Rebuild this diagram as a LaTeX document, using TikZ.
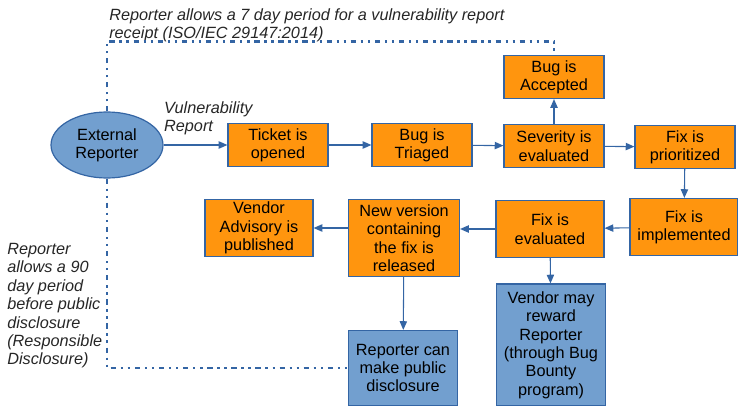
\documentclass[tikz,border=0pt]{standalone}
\usepackage{fontspec}
\setmainfont{Liberation Sans}
\usetikzlibrary{arrows.meta, shapes.geometric}
\definecolor{stageorange}{HTML}{FF950E}
\definecolor{partyblue}{HTML}{729FCF}
\definecolor{edgeblue}{HTML}{3465A4}

\begin{document}
\begin{tikzpicture}[x=0.75pt, y=-0.75pt, auto,
    font=\fontsize{12.2}{13.8}\selectfont,
    flow/.style={-{Triangle[length=6.5pt,width=5.5pt]}, draw=edgeblue, line width=0.8pt},
    window/.style={draw=edgeblue, line width=1.8pt,
      dash pattern=on 4pt off 3.5pt on 1.8pt off 3.5pt on 1.8pt off 3.5pt},
    stage/.style={draw=edgeblue, line width=0.9pt, fill=stageorange, align=center, inner sep=0pt,
      minimum width=75pt, minimum height=32.25pt},
    bigstage/.style={stage, minimum width=81pt, minimum height=42.75pt},
    outcome/.style={draw=edgeblue, line width=0.9pt, fill=partyblue, align=center, inner sep=0pt,
      minimum width=81.75pt},
    party/.style={ellipse, draw=edgeblue, line width=0.9pt, fill=partyblue, align=center, inner sep=0pt,
      minimum width=84pt, minimum height=49.5pt},
    note/.style={font=\fontsize{12.2}{13.8}\selectfont\itshape, align=left, inner sep=0pt, text=black!85}]
      \useasboundingbox (0,0) rectangle (738,406);
      \node[party] (reporter) at (107,145) {External\\Reporter};
      \node[stage] (ticket) at (278,145) {Ticket is\\opened};
      \node[stage] (triaged) at (422,145) {Bug is\\Triaged};
      \node[stage] (severity) at (554,146) {Severity is\\evaluated};
      \node[stage] (accepted) at (554,77) {Bug is\\Accepted};
      \node[stage] (prioritized) at (685,147) {Fix is\\prioritized};
      \node[bigstage] (implemented) at (684,227) {Fix is\\implemented};
      \node[bigstage] (evaluated) at (550,229) {Fix is\\evaluated};
      \node[stage, minimum width=83.25pt, minimum height=57.75pt] (newversion) at (404,238)
        {New version\\containing\\the fix is\\released};
      \node[bigstage] (advisory) at (259,228) {Vendor\\Advisory is\\published};
      \node[outcome, minimum height=56.25pt] (public) at (403,368) {Reporter can\\make public\\disclosure};
      \node[outcome, minimum height=91.5pt] (reward) at (551,345)
        {Vendor may\\reward\\Reporter\\(through Bug\\Bounty\\program)};
      % notes
      \node[note, anchor=north west] (isonote) at (109,8)
        {Reporter allows a 7 day period for a vulnerability report\\receipt (ISO/IEC 29147:2014)};
      \node[note, anchor=north west] (rdnote) at (7,243)
        {Reporter\\allows a 90\\day period\\before public\\disclosure\\(Responsible\\Disclosure)};
      % time windows
      \draw[window] (reporter.north) -- ++(0,-70) -| (accepted.north);
      \draw[window] (reporter.south) |- (public.west);
      % main flow
      \draw[flow] (reporter) -- node[note, pos=0, anchor=south west, yshift=7pt] {Vulnerability\\Report} (ticket);
      \draw[flow] (ticket) -- (triaged);
      \draw[flow] (triaged) -- (severity);
      \draw[flow] (severity) -- (accepted);
      \draw[flow] (severity) -- (prioritized);
      \draw[flow] (prioritized) -- (implemented);
      \draw[flow] (implemented) -- (evaluated);
      \draw[flow] (evaluated.west) -- (evaluated.west -| newversion.east);
      \draw[flow] (newversion.west |- advisory) -- (advisory);
      % outcomes
      \draw[flow] (newversion) -- (public);
      \draw[flow] (evaluated) -- (reward);
\end{tikzpicture}
\end{document}
